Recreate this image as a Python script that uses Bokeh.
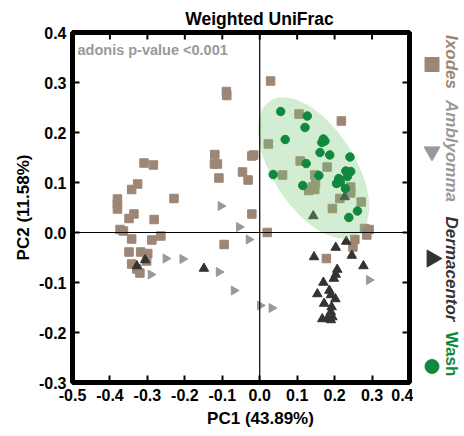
from math import pi
from bokeh.plotting import figure
from bokeh.layouts import row
from bokeh.models import (Range1d, FixedTicker, PrintfTickFormatter, Span, Label,
                          ColumnDataSource, Title)
from bokeh.core.properties import value
from bokeh.embed import file_html
from bokeh.resources import INLINE

FONT = "Liberation Sans"

# ---------------- data ----------------
title_text = "Weighted UniFrac"
x_label = "PC1 (43.89%)"
y_label = "PC2 (11.58%)"
stat_text = "adonis p-value <0.001"
x_ticks = [-0.5, -0.4, -0.3, -0.2, -0.1, 0.0, 0.1, 0.2, 0.3, 0.4]
y_ticks = [-0.3, -0.2, -0.1, 0.0, 0.1, 0.2, 0.3, 0.4]

groups = ["Ixodes", "Amblyomma", "Dermacentor", "Wash"]
group_colors = ["#9d8675", "#999999", "#333333", "#10893f"]
group_font_styles = ["bold italic", "bold italic", "bold italic", "bold"]

ixodes_x = [-0.089, -0.088, -0.120, -0.121, -0.113, -0.109, -0.021, -0.016, -0.046, -0.031,
            -0.309, -0.284, -0.326, -0.342, -0.380, -0.380, -0.380, -0.229, -0.336, -0.349,
            -0.282, -0.021, -0.373, -0.364, -0.342, -0.288, -0.264, -0.095, -0.349, -0.318,
            -0.299, -0.342, -0.328, -0.320, -0.302, 0.020, 0.029, 0.105, 0.218, 0.023,
            0.108, 0.180, 0.061, 0.147, 0.149, 0.141, 0.131, 0.147, 0.243, 0.243,
            0.214, 0.271, 0.194, 0.280, 0.292, 0.286, 0.254, 0.249, 0.178]
ixodes_y = [0.282, 0.274, 0.156, 0.137, 0.137, 0.109, 0.153, 0.155, 0.121, 0.105,
            0.139, 0.135, 0.097, 0.086, 0.067, 0.057, 0.047, 0.068, 0.037, 0.028,
            0.026, 0.037, 0.006, 0.003, -0.013, -0.015, -0.007, -0.024, -0.039, -0.039,
            -0.042, -0.063, -0.073, -0.081, -0.057, 0.000, 0.303, 0.237, 0.223, 0.177,
            0.143, 0.131, 0.115, 0.115, 0.098, 0.091, 0.084, 0.086, 0.091, 0.079,
            0.068, 0.061, 0.048, 0.008, 0.006, -0.005, -0.014, -0.029, -0.052]

amblyomma_x = [-0.104, -0.055, -0.029, -0.251, -0.206, -0.291, -0.109, -0.069, 0.001, 0.032, 0.292]
amblyomma_y = [0.053, 0.011, -0.014, -0.052, -0.053, -0.084, -0.079, -0.116, -0.146, -0.151, -0.095]

dermacentor_x = [-0.328, -0.306, -0.149, 0.227, 0.143, 0.231, 0.203, 0.145, 0.246, 0.277,
                 0.207, 0.203, 0.198, 0.170, 0.186, 0.190, 0.154, 0.202, 0.172, 0.192,
                 0.190, 0.194, 0.181, 0.167, 0.190]
dermacentor_y = [-0.067, -0.055, -0.072, 0.071, 0.033, -0.018, -0.030, -0.049, -0.046, -0.067,
                 -0.074, -0.084, -0.092, -0.100, -0.116, -0.125, -0.123, -0.133, -0.142, -0.149,
                 -0.159, -0.169, -0.172, -0.173, -0.175]

wash_x = [0.056, 0.127, 0.121, 0.068, 0.170, 0.166, 0.174, 0.161, 0.187, 0.241,
          0.124, 0.036, 0.158, 0.230, 0.243, 0.234, 0.211, 0.205, 0.215, 0.115,
          0.229, 0.261, 0.238]
wash_y = [0.242, 0.233, 0.210, 0.186, 0.187, 0.180, 0.183, 0.160, 0.155, 0.151,
          0.138, 0.116, 0.114, 0.123, 0.122, 0.112, 0.108, 0.098, 0.101, 0.094,
          0.088, 0.043, 0.030]

# Wash confidence ellipse (data units)
wash_ell_x = [0.144]
wash_ell_y = [0.129]
wash_ell_w = [0.427]
wash_ell_h = [0.164]
wash_ell_angle_deg = -57

# ---------------- main plot ----------------
p = figure(width=413, height=436, x_range=Range1d(x_ticks[0], x_ticks[-1]),
           y_range=Range1d(y_ticks[0], y_ticks[-1]),
           output_backend="svg", toolbar_location=None,
           min_border_left=72, min_border_right=4, min_border_top=32, min_border_bottom=54)
p.grid.visible = False
p.outline_line_color = "black"
p.outline_line_width = 5
p.background_fill_color = "white"
p.border_fill_color = "white"

p.title.text = title_text
p.title.align = "left"
p.title.offset = 112.8
p.title.standoff = 7
p.title.text_font = FONT
p.title.text_font_size = "17.5px"
p.title.text_font_style = "bold"
p.title.text_color = "black"

for ax, ticks in ((p.xaxis[0], x_ticks), (p.yaxis[0], y_ticks)):
    ax.ticker = FixedTicker(ticks=ticks)
    ax.formatter = PrintfTickFormatter(format="%.1f")
    ax.axis_line_color = None
    ax.major_tick_in = 7
    ax.major_tick_out = 0
    ax.major_tick_line_width = 2
    ax.major_tick_line_color = "black"
    ax.minor_tick_line_color = None
    ax.major_label_text_font = FONT
    ax.major_label_text_font_size = "16px"
    ax.major_label_text_font_style = "bold"
    ax.major_label_text_color = "black"
    ax.major_label_standoff = 6

p.add_layout(Title(text=x_label, align="left", offset=134.6, standoff=6, text_font=FONT,
                   text_font_size="17px", text_font_style="bold", text_color="black"), "below")
p.add_layout(Title(text=y_label, align="center", standoff=6, text_font=FONT,
                   text_font_size="17px", text_font_style="bold", text_color="black"), "left")

mk_line = 1
p.scatter(ixodes_x, ixodes_y, marker="square", size=8.5, fill_color=group_colors[0],
          line_color=group_colors[0], line_width=mk_line, line_join="round")
p.scatter(amblyomma_x, amblyomma_y, marker="triangle", angle=-pi / 2, size=9,
          fill_color=group_colors[1], line_color=group_colors[1], line_width=mk_line, line_join="round")
p.scatter(dermacentor_x, dermacentor_y, marker="triangle", size=9.5,
          fill_color=group_colors[2], line_color=group_colors[2], line_width=mk_line, line_join="round")
p.ellipse(x=wash_ell_x, y=wash_ell_y, width=wash_ell_w, height=wash_ell_h,
          angle=wash_ell_angle_deg * pi / 180, fill_color="#78c878", fill_alpha=0.33, line_color=None)
p.scatter(wash_x, wash_y, marker="circle", size=8.5, fill_color=group_colors[3],
          line_color=group_colors[3], line_width=mk_line)

# inward ticks on the top and right edges (half of each dash is clipped by the frame)
p.scatter(x_ticks, [y_ticks[-1]] * len(x_ticks), marker="dash", angle=pi / 2, size=14,
          line_color="black", line_width=2)
p.scatter([x_ticks[-1]] * len(y_ticks), y_ticks, marker="dash", size=14,
          line_color="black", line_width=2)

p.add_layout(Span(location=0, dimension="height", line_color="black", line_width=1.2))
p.add_layout(Span(location=0, dimension="width", line_color="black", line_width=1.2))

p.add_layout(Label(x=x_ticks[0], y=y_ticks[-1], x_offset=5, y_offset=-17, text=stat_text,
                   text_font=FONT, text_font_size="14.5px", text_font_style="bold",
                   text_color="#999999", text_baseline="middle", text_align="left"))

# ---------------- legend (rotated) ----------------
leg = figure(width=51, height=436, x_range=Range1d(413, 464), y_range=Range1d(382, 32),
             output_backend="svg", toolbar_location=None, x_axis_type=None, y_axis_type=None,
             min_border_left=0, min_border_right=0, min_border_top=32, min_border_bottom=54)
leg.grid.visible = False
leg.outline_line_color = None
leg.background_fill_color = "white"
leg.border_fill_color = "white"

leg_text_x = [451, 451, 451, 451]
leg_text_y = [61.5, 150.5, 268.5, 353.5]
leg_src = ColumnDataSource(dict(x=leg_text_x, y=leg_text_y, t=groups, c=group_colors,
                                s=group_font_styles))
leg.text(x="x", y="y", text="t", text_color="c", text_font_style="s", source=leg_src,
         angle=-pi / 2, text_font=value(FONT), text_font_size="17px",
         text_align="center", text_baseline="middle")

mx = 431.5
leg.scatter([mx], [64], marker="square", size=14, color=group_colors[0])
leg.scatter([mx], [151], marker="inverted_triangle", size=16, color=group_colors[1])
leg.scatter([mx], [258], marker="triangle", angle=-pi / 2, size=17, color=group_colors[2])
leg.scatter([mx], [366], marker="circle", size=14, color=group_colors[3])

layout = row(p, leg)
open("out.html", "w").write(file_html(layout, INLINE))
